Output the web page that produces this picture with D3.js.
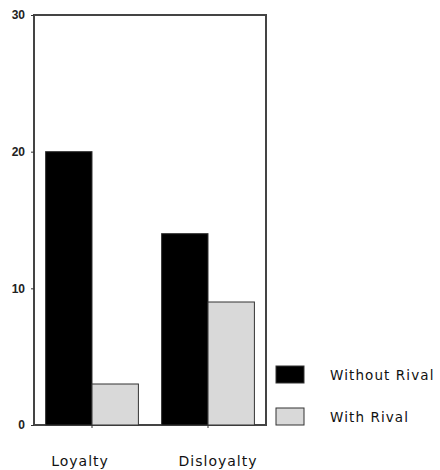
<!DOCTYPE html>
<html><head><meta charset="utf-8">
<script src="https://cdn.jsdelivr.net/npm/d3@7"></script>
<style>body{margin:0;background:#fff}svg{display:block}</style>
</head><body>
<script>
const categories = ["Loyalty", "Disloyalty"];
const seriesNames = ["Without Rival", "With Rival"];
const withoutRival = [20, 14];
const withRival = [3, 9];
const yTicks = [0, 10, 20, 30];

const W = 440, H = 470;
const m = {left: 34, top: 15, right: 266, bottom: 425};
const svg = d3.select("body").append("svg").attr("width", W).attr("height", H);

const y = d3.scaleLinear().domain([0, 30]).range([m.bottom, m.top]);
const x0 = d3.scaleBand().domain(categories).range([m.left, m.right]).paddingInner(0.2).paddingOuter(0.1);
const x1 = d3.scaleBand().domain(seriesNames).range([0, x0.bandwidth()]);
const colors = {"Without Rival": "#000000", "With Rival": "#d9d9d9"};
const data = categories.map((c, i) => ({cat: c, vals: [withoutRival[i], withRival[i]]}));

// frame
svg.append("rect").attr("x", m.left).attr("y", m.top).attr("width", m.right - m.left).attr("height", m.bottom - m.top)
  .attr("fill", "none").attr("stroke", "#444").attr("stroke-width", 2);

// bars
const g = svg.append("g");
data.forEach(d => {
  d.vals.forEach((v, j) => {
    g.append("rect")
      .attr("x", x0(d.cat) + x1(seriesNames[j]))
      .attr("y", y(v))
      .attr("width", x1.bandwidth())
      .attr("height", y(0) - y(v))
      .attr("fill", colors[seriesNames[j]])
      .attr("stroke", "#333").attr("stroke-width", 1);
  });
});

// y axis
const ya = svg.append("g").attr("transform", `translate(${m.left},0)`)
  .call(d3.axisLeft(y).tickValues(yTicks).tickSize(3).tickPadding(6).tickFormat(d3.format("d")));
ya.select(".domain").remove();
ya.selectAll("line").attr("stroke", "#333");
ya.selectAll("text").attr("font-family", "Arial, 'Liberation Sans', sans-serif").attr("font-size", 12)
  .attr("font-weight", "bold").attr("fill", "#222");

// x axis
const xa = svg.append("g").attr("transform", `translate(0,${m.bottom})`)
  .call(d3.axisBottom(x0).tickSize(3).tickPadding(28));
xa.select(".domain").remove();
xa.selectAll("line").attr("stroke", "#333");
xa.selectAll("text").attr("font-family", "'DejaVu Sans', Verdana, sans-serif").attr("font-size", 14)
  .attr("letter-spacing", "1px").attr("fill", "#111")
  .attr("dx", (d, i) => i === 0 ? -12 : 10);

// legend
const lg = svg.append("g");
seriesNames.forEach((s, i) => {
  const yy = 366 + i * 42;
  lg.append("rect").attr("x", 276).attr("y", yy).attr("width", 28).attr("height", 17)
    .attr("fill", colors[s]).attr("stroke", "#333").attr("stroke-width", 1);
  lg.append("text").attr("x", 330).attr("y", yy + 14).text(s)
    .attr("font-family", "'DejaVu Sans', Verdana, sans-serif").attr("font-size", 13.5)
    .attr("letter-spacing", "1.1px").attr("fill", "#111");
});
</script>
</body></html>
